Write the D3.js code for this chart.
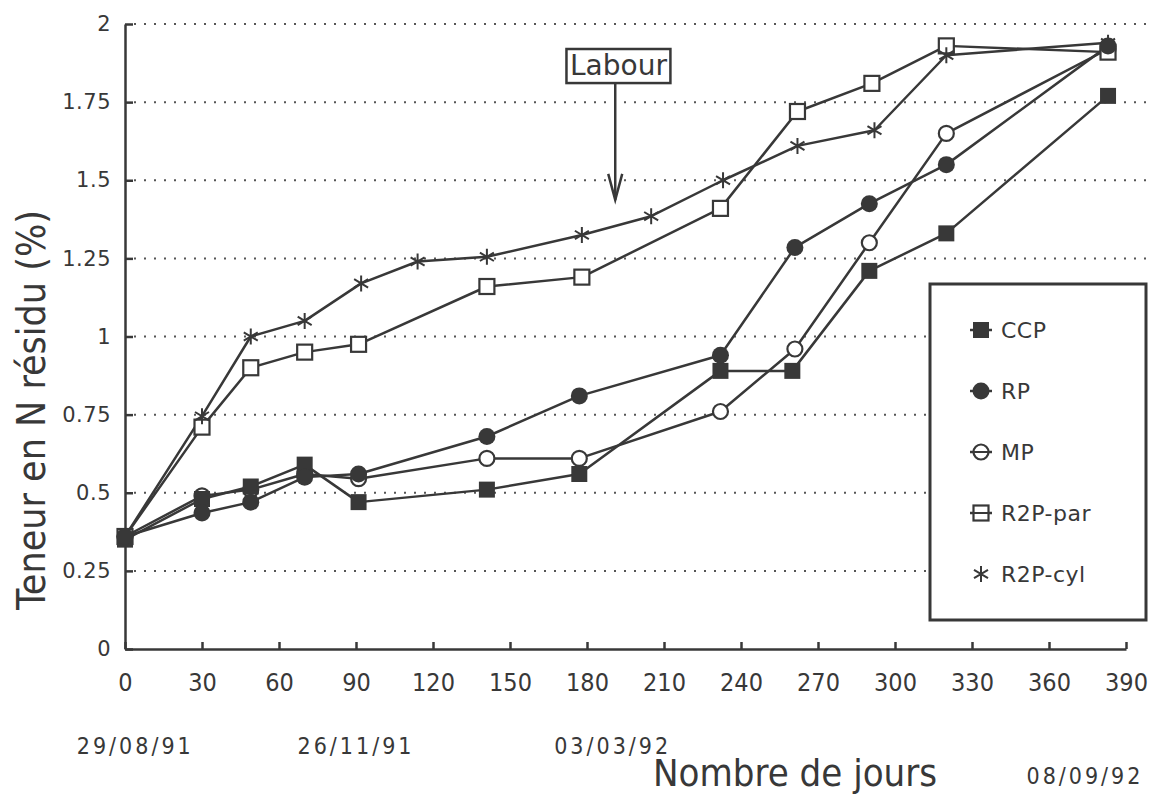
<!DOCTYPE html>
<html><head><meta charset="utf-8">
<script src="https://cdn.jsdelivr.net/npm/d3@7"></script>
<style>body{margin:0;background:#fff} svg{display:block}</style>
</head><body>
<svg id="c" width="1162" height="796"></svg>
<script>
// ---- data ----
const xTicks = [0,30,60,90,120,150,180,210,240,270,300,330,360,390];
const yTicks = [0,0.25,0.5,0.75,1,1.25,1.5,1.75,2];
const yTickLabels = ["0","0.25","0.5","0.75","1","1.25","1.5","1.75","2"];
const dateLabels = ["29/08/91","26/11/91","03/03/92","08/09/92"];
const dateDays = [4, 90, 190, 374];

const seriesNames = ["CCP","RP","MP","R2P-par","R2P-cyl"];

const ccpDays = [0,30,49,70,91,141,177,232,260,290,320,383];
const ccpVals = [0.35,0.48,0.52,0.59,0.47,0.51,0.56,0.89,0.89,1.21,1.33,1.77];

const rpDays = [0,30,49,70,91,141,177,232,261,290,320,383];
const rpVals = [0.36,0.435,0.47,0.55,0.56,0.68,0.81,0.94,1.285,1.425,1.55,1.93];

const mpDays = [0,30,49,70,91,141,177,232,261,290,320,383];
const mpVals = [0.36,0.49,0.51,0.56,0.545,0.61,0.61,0.76,0.96,1.30,1.65,1.92];

const parDays = [0,30,49,70,91,141,178,232,262,291,320,383];
const parVals = [0.36,0.71,0.90,0.95,0.975,1.16,1.19,1.41,1.72,1.81,1.93,1.91];

const cylDays = [0,30,49,70,92,114,141,178,205,233,262,292,320,383];
const cylVals = [0.36,0.745,1.0,1.05,1.17,1.24,1.255,1.325,1.385,1.50,1.61,1.66,1.90,1.94];

// annotation (data units)
const labourText = "Labour";
const labourDay = 191;
const labourBox = {d0:172, d1:212.5, v0:1.811, v1:1.92};
const labourTip = 1.437;

// ---- drawing ----
const INK = "#383838";
const svg = d3.select("#c");
const x = d3.scaleLinear().domain([0,390]).range([125,1126]);
const y = d3.scaleLinear().domain([0,2]).range([649,24]);

// gridlines
svg.append("g").selectAll("line").data(yTicks.filter(d=>d>0)).join("line")
  .attr("x1", x(0)+9).attr("x2", x(399))
  .attr("y1", d=>y(d)).attr("y2", d=>y(d))
  .attr("stroke", "#555").attr("stroke-width", 2)
  .attr("stroke-dasharray", "2 8");

// axes
const xAxis = d3.axisBottom(x).tickValues(xTicks).tickSizeInner(-7).tickSizeOuter(0).tickPadding(24);
const gx = svg.append("g").attr("transform", `translate(0,${y(0)})`).call(xAxis);
gx.selectAll("text").attr("font-family","'DejaVu Sans Condensed','DejaVu Sans',sans-serif")
  .style("font-stretch","condensed").attr("font-size",25).attr("fill",INK);

const yAxis = d3.axisLeft(y).tickValues(yTicks).tickFormat((d,i)=>yTickLabels[i])
  .tickSizeInner(-8).tickSizeOuter(0).tickPadding(14);
const gy = svg.append("g").attr("transform", `translate(${x(0)},0)`).call(yAxis);
gy.selectAll("text").attr("font-family","'DejaVu Sans',sans-serif").attr("font-size",21)
  .attr("letter-spacing", "0.5px").attr("fill",INK);

svg.selectAll(".domain, .tick line").attr("stroke", INK).attr("stroke-width", 2.5);

// date labels
svg.append("g").selectAll("text").data(dateLabels).join("text")
  .attr("x", (d,i)=>x(dateDays[i]))
  .attr("y", (d,i)=> i===3 ? 784 : 754)
  .attr("text-anchor","middle")
  .attr("font-family","'DejaVu Sans Condensed','DejaVu Sans',sans-serif")
  .style("font-stretch","condensed")
  .attr("font-size",23).attr("letter-spacing","3px").attr("fill",INK)
  .text(d=>d);

// axis titles
svg.append("text").attr("x", 795).attr("y", 786).attr("text-anchor","middle")
  .attr("font-family","'DejaVu Sans Condensed','DejaVu Sans',sans-serif")
  .style("font-stretch","condensed").attr("font-size",38).attr("fill",INK)
  .text("Nombre de jours");
svg.append("text").attr("transform","translate(45,410) rotate(-90)").attr("text-anchor","middle")
  .attr("font-family","'DejaVu Sans Condensed','DejaVu Sans',sans-serif")
  .style("font-stretch","condensed").attr("font-size",39).attr("fill",INK)
  .text("Teneur en N résidu (%)");

// Labour annotation
svg.append("rect")
  .attr("x", x(labourBox.d0)).attr("y", y(labourBox.v1))
  .attr("width", x(labourBox.d1)-x(labourBox.d0)).attr("height", y(labourBox.v0)-y(labourBox.v1))
  .attr("fill","#fff").attr("stroke",INK).attr("stroke-width",2.5);
svg.append("text").attr("x", (x(labourBox.d0)+x(labourBox.d1))/2).attr("y", y(labourBox.v0)-8)
  .attr("text-anchor","middle").attr("font-family","'DejaVu Sans',sans-serif")
  .attr("font-size",28).attr("fill",INK).text(labourText);
svg.append("line").attr("x1", x(labourDay)).attr("x2", x(labourDay))
  .attr("y1", y(labourBox.v0)).attr("y2", y(labourTip))
  .attr("stroke",INK).attr("stroke-width",2.5);
svg.append("path")
  .attr("d", `M${x(labourDay)-7},${y(labourTip)-26} L${x(labourDay)},${y(labourTip)} L${x(labourDay)+7},${y(labourTip)-26}`)
  .attr("fill","none").attr("stroke",INK).attr("stroke-width",2.5);

// markers
function drawMarker(g, type, cx, cy) {
  if (type === "fsquare") {
    g.append("rect").attr("x",cx-8).attr("y",cy-8).attr("width",16).attr("height",16).attr("fill",INK);
  } else if (type === "fcircle") {
    g.append("circle").attr("cx",cx).attr("cy",cy).attr("r",8.5).attr("fill",INK);
  } else if (type === "ocircle") {
    g.append("circle").attr("cx",cx).attr("cy",cy).attr("r",7.5).attr("fill","#fff")
      .attr("stroke",INK).attr("stroke-width",2.2);
  } else if (type === "osquare") {
    g.append("rect").attr("x",cx-7.5).attr("y",cy-7.5).attr("width",15).attr("height",15)
      .attr("fill","#fff").attr("stroke",INK).attr("stroke-width",2.2);
  } else if (type === "star") {
    const s = 8, a = 7;
    g.append("path")
      .attr("d", `M${cx},${cy-s}L${cx},${cy+s}M${cx-a},${cy-a*0.6}L${cx+a},${cy+a*0.6}M${cx-a},${cy+a*0.6}L${cx+a},${cy-a*0.6}`)
      .attr("stroke",INK).attr("stroke-width",2).attr("fill","none");
  }
}

const series = [
  {name:"MP", days:mpDays, vals:mpVals, m:"ocircle"},
  {name:"R2P-par", days:parDays, vals:parVals, m:"osquare"},
  {name:"R2P-cyl", days:cylDays, vals:cylVals, m:"star"},
  {name:"CCP", days:ccpDays, vals:ccpVals, m:"fsquare"},
  {name:"RP", days:rpDays, vals:rpVals, m:"fcircle"}
];
const line = d3.line().x(d=>x(d[0])).y(d=>y(d[1]));
const gl = svg.append("g");
series.forEach(s=>{
  const pts = s.days.map((d,i)=>[d, s.vals[i]]);
  gl.append("path").datum(pts).attr("d", line).attr("fill","none")
    .attr("stroke",INK).attr("stroke-width",2.5).attr("stroke-linejoin","round");
});
const gm = svg.append("g");
series.forEach(s=>{
  s.days.forEach((d,i)=>drawMarker(gm, s.m, x(d), y(s.vals[i])));
});

// legend
const legendMarkers = {"CCP":"fsquare","RP":"fcircle","MP":"ocircle","R2P-par":"osquare","R2P-cyl":"star"};
const lg = svg.append("g");
lg.append("rect").attr("x",930).attr("y",284).attr("width",216).attr("height",336)
  .attr("fill","#fff").attr("stroke",INK).attr("stroke-width",3);
seriesNames.forEach((n,i)=>{
  const cy = 330 + i*61, cx = 981;
  const gi = lg.append("g");
  if (n !== "R2P-cyl") {
    gi.append("line").attr("x1",cx-11).attr("x2",cx+11).attr("y1",cy).attr("y2",cy)
      .attr("stroke",INK).attr("stroke-width",2.5);
  }
  drawMarker(gi, legendMarkers[n], cx, cy);
  if (n === "MP" || n === "R2P-par") {
    gi.append("line").attr("x1",cx-10).attr("x2",cx+10).attr("y1",cy).attr("y2",cy)
      .attr("stroke",INK).attr("stroke-width",2);
  }
  gi.append("text").attr("x",1001).attr("y",cy+8).attr("font-family","'DejaVu Sans',sans-serif")
    .attr("font-size",22).attr("letter-spacing","0.5px").attr("fill",INK).text(n);
});
</script>
</body></html>
